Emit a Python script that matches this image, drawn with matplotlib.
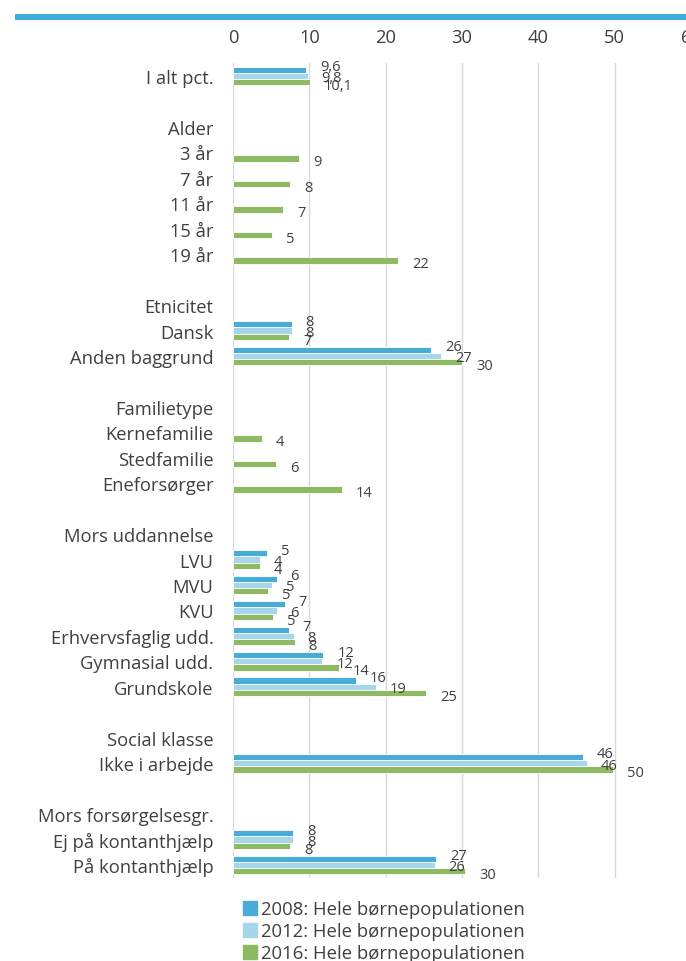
import numpy as np
import matplotlib
matplotlib.use('Agg')
import matplotlib.pyplot as plt
from matplotlib.patches import Patch

plt.rcParams['font.family'] = ['Open Sans', 'DejaVu Sans']

# kategorier (tomme strenge = luft mellem grupperne)
categories = [
    'I alt pct.', '', 'Alder', '3 år', '7 år', '11 år', '15 år', '19 år', '',
    'Etnicitet', 'Dansk', 'Anden baggrund', '',
    'Familietype', 'Kernefamilie', 'Stedfamilie', 'Eneforsørger', '',
    'Mors uddannelse', 'LVU', 'MVU', 'KVU', 'Erhvervsfaglig udd.',
    'Gymnasial udd.', 'Grundskole', '',
    'Social klasse', 'Ikke i arbejde', '',
    'Mors forsørgelsesgr.', 'Ej på kontanthjælp', 'På kontanthjælp',
]
n = np.nan
v2008 = [9.6, n, n, n, n, n, n, n, n, n, 7.7, 26.0, n, n, n, n, n, n, n,
         4.5, 5.7, 6.8, 7.3, 11.85, 16.1, n, n, 45.8, n, n, 7.9, 26.6]
v2012 = [9.8, n, n, n, n, n, n, n, n, n, 7.7, 27.3, n, n, n, n, n, n, n,
         3.5, 5.1, 5.7, 7.95, 11.7, 18.7, n, n, 46.4, n, n, 7.9, 26.4]
v2016 = [10.1, n, n, 8.65, 7.5, 6.55, 5.1, 21.6, n, n, 7.4, 30.0, n, n, 3.8, 5.6, 14.3, n, n,
         3.5, 4.6, 5.3, 8.1, 13.9, 25.3, n, n, 49.8, n, n, 7.5, 30.4]
# dataetiketter som de står i figuren
lab2008 = ['9,6', '', '', '', '', '', '', '', '', '', '8', '26', '', '', '', '', '', '', '',
           '5', '6', '7', '7', '12', '16', '', '', '46', '', '', '8', '27']
lab2012 = ['9,8', '', '', '', '', '', '', '', '', '', '8', '27', '', '', '', '', '', '', '',
           '4', '5', '6', '8', '12', '19', '', '', '46', '', '', '8', '26']
lab2016 = ['10,1', '', '', '9', '8', '7', '5', '22', '', '', '7', '30', '', '', '4', '6', '14', '', '',
           '4', '5', '5', '8', '14', '25', '', '', '50', '', '', '8', '30']
series_names = ['2008: Hele børnepopulationen', '2012: Hele børnepopulationen',
                '2016: Hele børnepopulationen']
xticks = [0, 10, 20, 30, 40, 50, 60]

colors = ['#48acd6', '#a6d6ea', '#8dba62']
txt = '#404040'
# lodret forskydning af etiketterne pr. serie (punkter)
label_dy = [2.2, -1.4, -2.4]

fig = plt.figure(figsize=(6.86, 9.62), dpi=100)
# blå streg øverst
fig.add_artist(plt.Rectangle((15 / 686, 1 - 21 / 962), 1, 6 / 962,
                             transform=fig.transFigure, color='#41abd9', lw=0))

ax = fig.add_axes([233 / 686, 1 - 878.7 / 962, 458 / 686, (878.7 - 64.3) / 962])
y = np.arange(len(categories))
h = 0.245
for k, (vals, labs) in enumerate(zip([v2008, v2012, v2016], [lab2008, lab2012, lab2016])):
    yy = y + (k - 1) * h
    ax.barh(yy, vals, height=h, color=colors[k], edgecolor='white', linewidth=0.6, zorder=2)
    for yi, v, s in zip(yy, vals, labs):
        if s:
            ax.annotate(s, (v, yi), xytext=(10, label_dy[k]), textcoords='offset points',
                        ha='left', va='center', fontsize=10.5, color=txt, zorder=3)

ax.set_xlim(0, 60)
ax.set_ylim(len(categories) - 0.5, -0.5)
ax.set_yticks(y)
ax.set_yticklabels(categories)
ax.set_xticks(xticks)
ax.xaxis.tick_top()
ax.tick_params(axis='x', length=0, pad=12.5, labelsize=13.2, colors=txt)
ax.tick_params(axis='y', length=0, pad=14, labelsize=13.2, colors=txt)
for lbl in ax.get_xticklabels():
    lbl.set_clip_on(False)
ax.grid(axis='x', color='#d9d9d9', linewidth=1, zorder=0)
for sp in ax.spines.values():
    sp.set_visible(False)

handles = [Patch(color=c) for c in colors]
fig.legend(handles, series_names, loc='upper left', bbox_to_anchor=(234 / 686, 1 - 892 / 962),
           frameon=False, fontsize=13.3, handlelength=0.75, handleheight=0.75,
           handletextpad=0.2, labelspacing=0.22, borderpad=0, labelcolor=txt)

fig.savefig('out.png', dpi=100)
